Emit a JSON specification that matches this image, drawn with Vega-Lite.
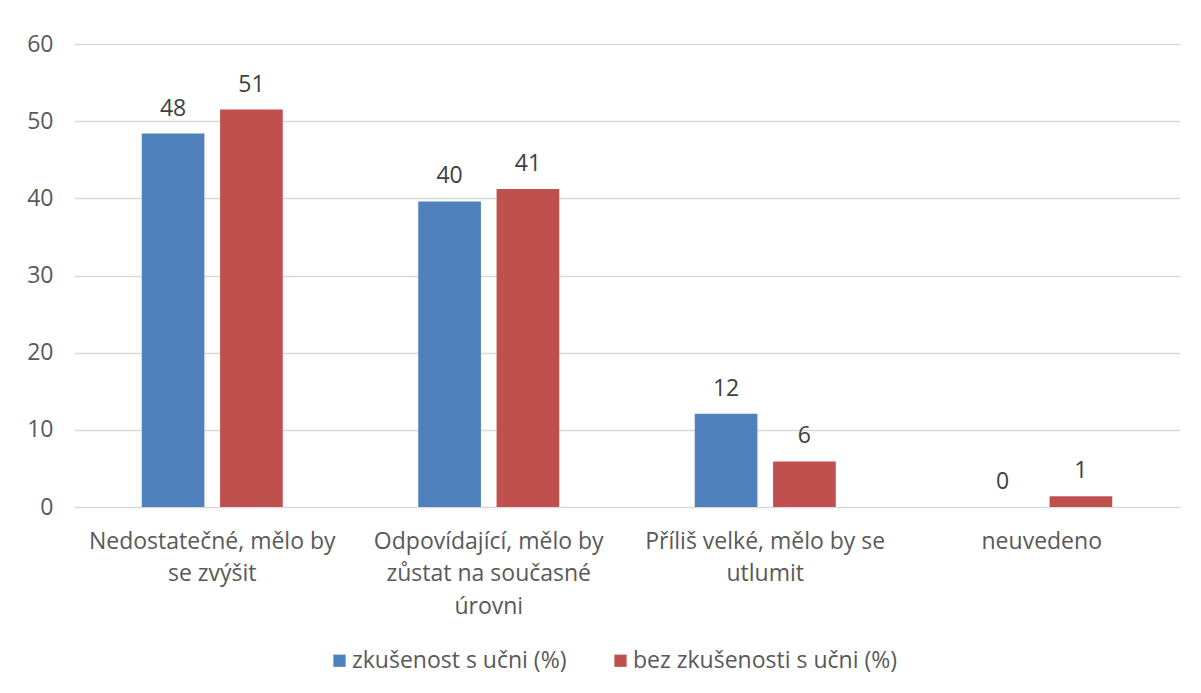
{
  "$schema": "https://vega.github.io/schema/vega-lite/v6.json",
  "autosize": {"type": "none"},
  "width": 1106,
  "height": 463,
  "padding": {"left": 74, "top": 44, "right": 21, "bottom": 186},
  "background": "white",
  "config": {
    "font": "Open Sans",
    "view": {"stroke": null}
  },
  "data": {
    "values": [
      {"kategorie": "Nedostatečné, mělo by se zvýšit", "skupina": "zkušenost s učni (%)", "hodnota": 48.4, "popis": "48"},
      {"kategorie": "Nedostatečné, mělo by se zvýšit", "skupina": "bez zkušenosti s učni (%)", "hodnota": 51.5, "popis": "51"},
      {"kategorie": "Odpovídající, mělo by zůstat na současné úrovni", "skupina": "zkušenost s učni (%)", "hodnota": 39.6, "popis": "40"},
      {"kategorie": "Odpovídající, mělo by zůstat na současné úrovni", "skupina": "bez zkušenosti s učni (%)", "hodnota": 41.2, "popis": "41"},
      {"kategorie": "Příliš velké, mělo by se utlumit", "skupina": "zkušenost s učni (%)", "hodnota": 12.1, "popis": "12"},
      {"kategorie": "Příliš velké, mělo by se utlumit", "skupina": "bez zkušenosti s učni (%)", "hodnota": 5.9, "popis": "6"},
      {"kategorie": "neuvedeno", "skupina": "zkušenost s učni (%)", "hodnota": 0, "popis": "0"},
      {"kategorie": "neuvedeno", "skupina": "bez zkušenosti s učni (%)", "hodnota": 1.4, "popis": "1"}
    ]
  },
  "encoding": {
    "x": {
      "field": "kategorie", "type": "nominal", "sort": null,
      "scale": {"paddingInner": 0.49, "paddingOuter": 0.245},
      "axis": {
        "title": null, "labelAngle": 0, "ticks": false, "domain": false,
        "labelFontSize": 23, "labelColor": "#595959", "labelPadding": 34, "labelLimit": 0,
        "labelLineHeight": 32.5, "labelBaseline": "middle",
        "labelExpr": "datum.value == 'Nedostatečné, mělo by se zvýšit' ? ['Nedostatečné, mělo by', 'se zvýšit'] : datum.value == 'Odpovídající, mělo by zůstat na současné úrovni' ? ['Odpovídající, mělo by', 'zůstat na současné', 'úrovni'] : datum.value == 'Příliš velké, mělo by se utlumit' ? ['Příliš velké, mělo by se', 'utlumit'] : datum.value"
      }
    },
    "xOffset": {
      "field": "skupina", "type": "nominal", "sort": ["zkušenost s učni (%)", "bez zkušenosti s učni (%)"],
      "scale": {"paddingInner": 0.2, "paddingOuter": 0}
    },
    "y": {
      "field": "hodnota", "type": "quantitative",
      "scale": {"domain": [0, 60], "nice": false},
      "axis": {
        "title": null, "values": [0, 10, 20, 30, 40, 50, 60], "ticks": false, "domain": false,
        "grid": true, "gridColor": "#D9D9D9", "gridWidth": 1.3,
        "labelFontSize": 23, "labelColor": "#595959", "labelPadding": 21
      }
    }
  },
  "layer": [
    {
      "mark": {"type": "bar"},
      "encoding": {
        "color": {
          "field": "skupina", "type": "nominal",
          "sort": ["zkušenost s učni (%)", "bez zkušenosti s učni (%)"],
          "scale": {"domain": ["zkušenost s učni (%)", "bez zkušenosti s učni (%)"], "range": ["#4F81BD", "#C0504D"]},
          "legend": {
            "title": null, "orient": "none", "direction": "horizontal",
            "legendX": 254, "legendY": 605, "labelLimit": 0,
            "symbolType": "square", "symbolSize": 150, "symbolStrokeWidth": 0,
            "labelFontSize": 23, "labelColor": "#595959", "columnPadding": 42, "labelOffset": 1
          }
        }
      }
    },
    {
      "mark": {"type": "text", "baseline": "bottom", "dy": -13, "fontSize": 23, "color": "#404040"},
      "encoding": {
        "text": {"field": "popis", "type": "nominal"}
      }
    }
  ]
}
